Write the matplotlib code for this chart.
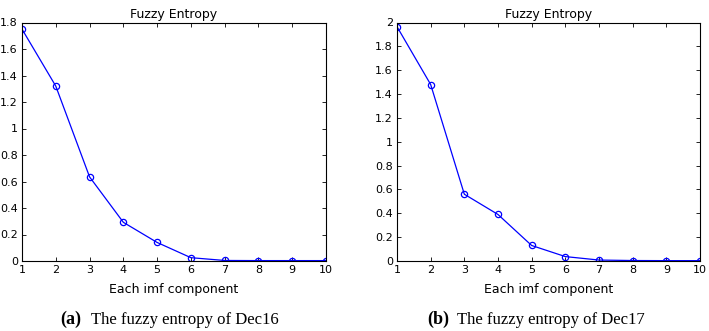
import matplotlib
matplotlib.use("Agg")
import matplotlib.pyplot as plt

# data
components = [1, 2, 3, 4, 5, 6, 7, 8, 9, 10]
entropy_dec16 = [1.75, 1.32, 0.635, 0.292, 0.14, 0.025, 0.004, 0.003, 0.003, 0.003]
entropy_dec17 = [1.965, 1.48, 0.56, 0.39, 0.13, 0.037, 0.008, 0.004, 0.003, 0.003]
yticks_dec16 = [0, 0.2, 0.4, 0.6, 0.8, 1, 1.2, 1.4, 1.6, 1.8]
yticks_dec17 = [0, 0.2, 0.4, 0.6, 0.8, 1, 1.2, 1.4, 1.6, 1.8, 2]


def draw(ax, y, yticks):
    ax.plot(components, y, color='#0000ff', linewidth=0.9, marker='o',
            markersize=4.5, markerfacecolor='none', markeredgecolor='#0000ff',
            markeredgewidth=0.9)
    ax.set_xlim(1, 10)
    ax.set_ylim(yticks[0], yticks[-1])
    ax.set_xticks(components)
    ax.set_yticks(yticks)
    ax.set_yticklabels(['%g' % v for v in yticks])
    ax.tick_params(direction='in', top=True, right=True, labelsize=8,
                   length=3, width=0.6, pad=3)
    for s in ax.spines.values():
        s.set_linewidth(0.8)
    ax.set_title('Fuzzy Entropy', fontsize=9, pad=3)
    ax.set_xlabel('Each imf component', fontsize=9, labelpad=6)


plt.rcParams['font.family'] = ['DejaVu Sans']
fig = plt.figure(figsize=(7.09, 3.31), dpi=100)
ax1 = fig.add_axes([22 / 709, 1 - 261 / 331, 304 / 709, 238.5 / 331])
ax2 = fig.add_axes([397 / 709, 1 - 261 / 331, 303 / 709, 238.5 / 331])
draw(ax1, entropy_dec16, yticks_dec16)
draw(ax2, entropy_dec17, yticks_dec17)

cap_y = 1 - 324 / 331
fig.text(60 / 709, cap_y, '(a)', fontsize=13, fontweight='bold',
         family='Liberation Serif', va='baseline')
fig.text(91 / 709, cap_y, 'The fuzzy entropy of Dec16', fontsize=12,
         family='Liberation Serif', va='baseline')
fig.text(427 / 709, cap_y, '(b)', fontsize=13, fontweight='bold',
         family='Liberation Serif', va='baseline')
fig.text(457 / 709, cap_y, 'The fuzzy entropy of Dec17', fontsize=12,
         family='Liberation Serif', va='baseline')

fig.savefig('out.png', dpi=100)
